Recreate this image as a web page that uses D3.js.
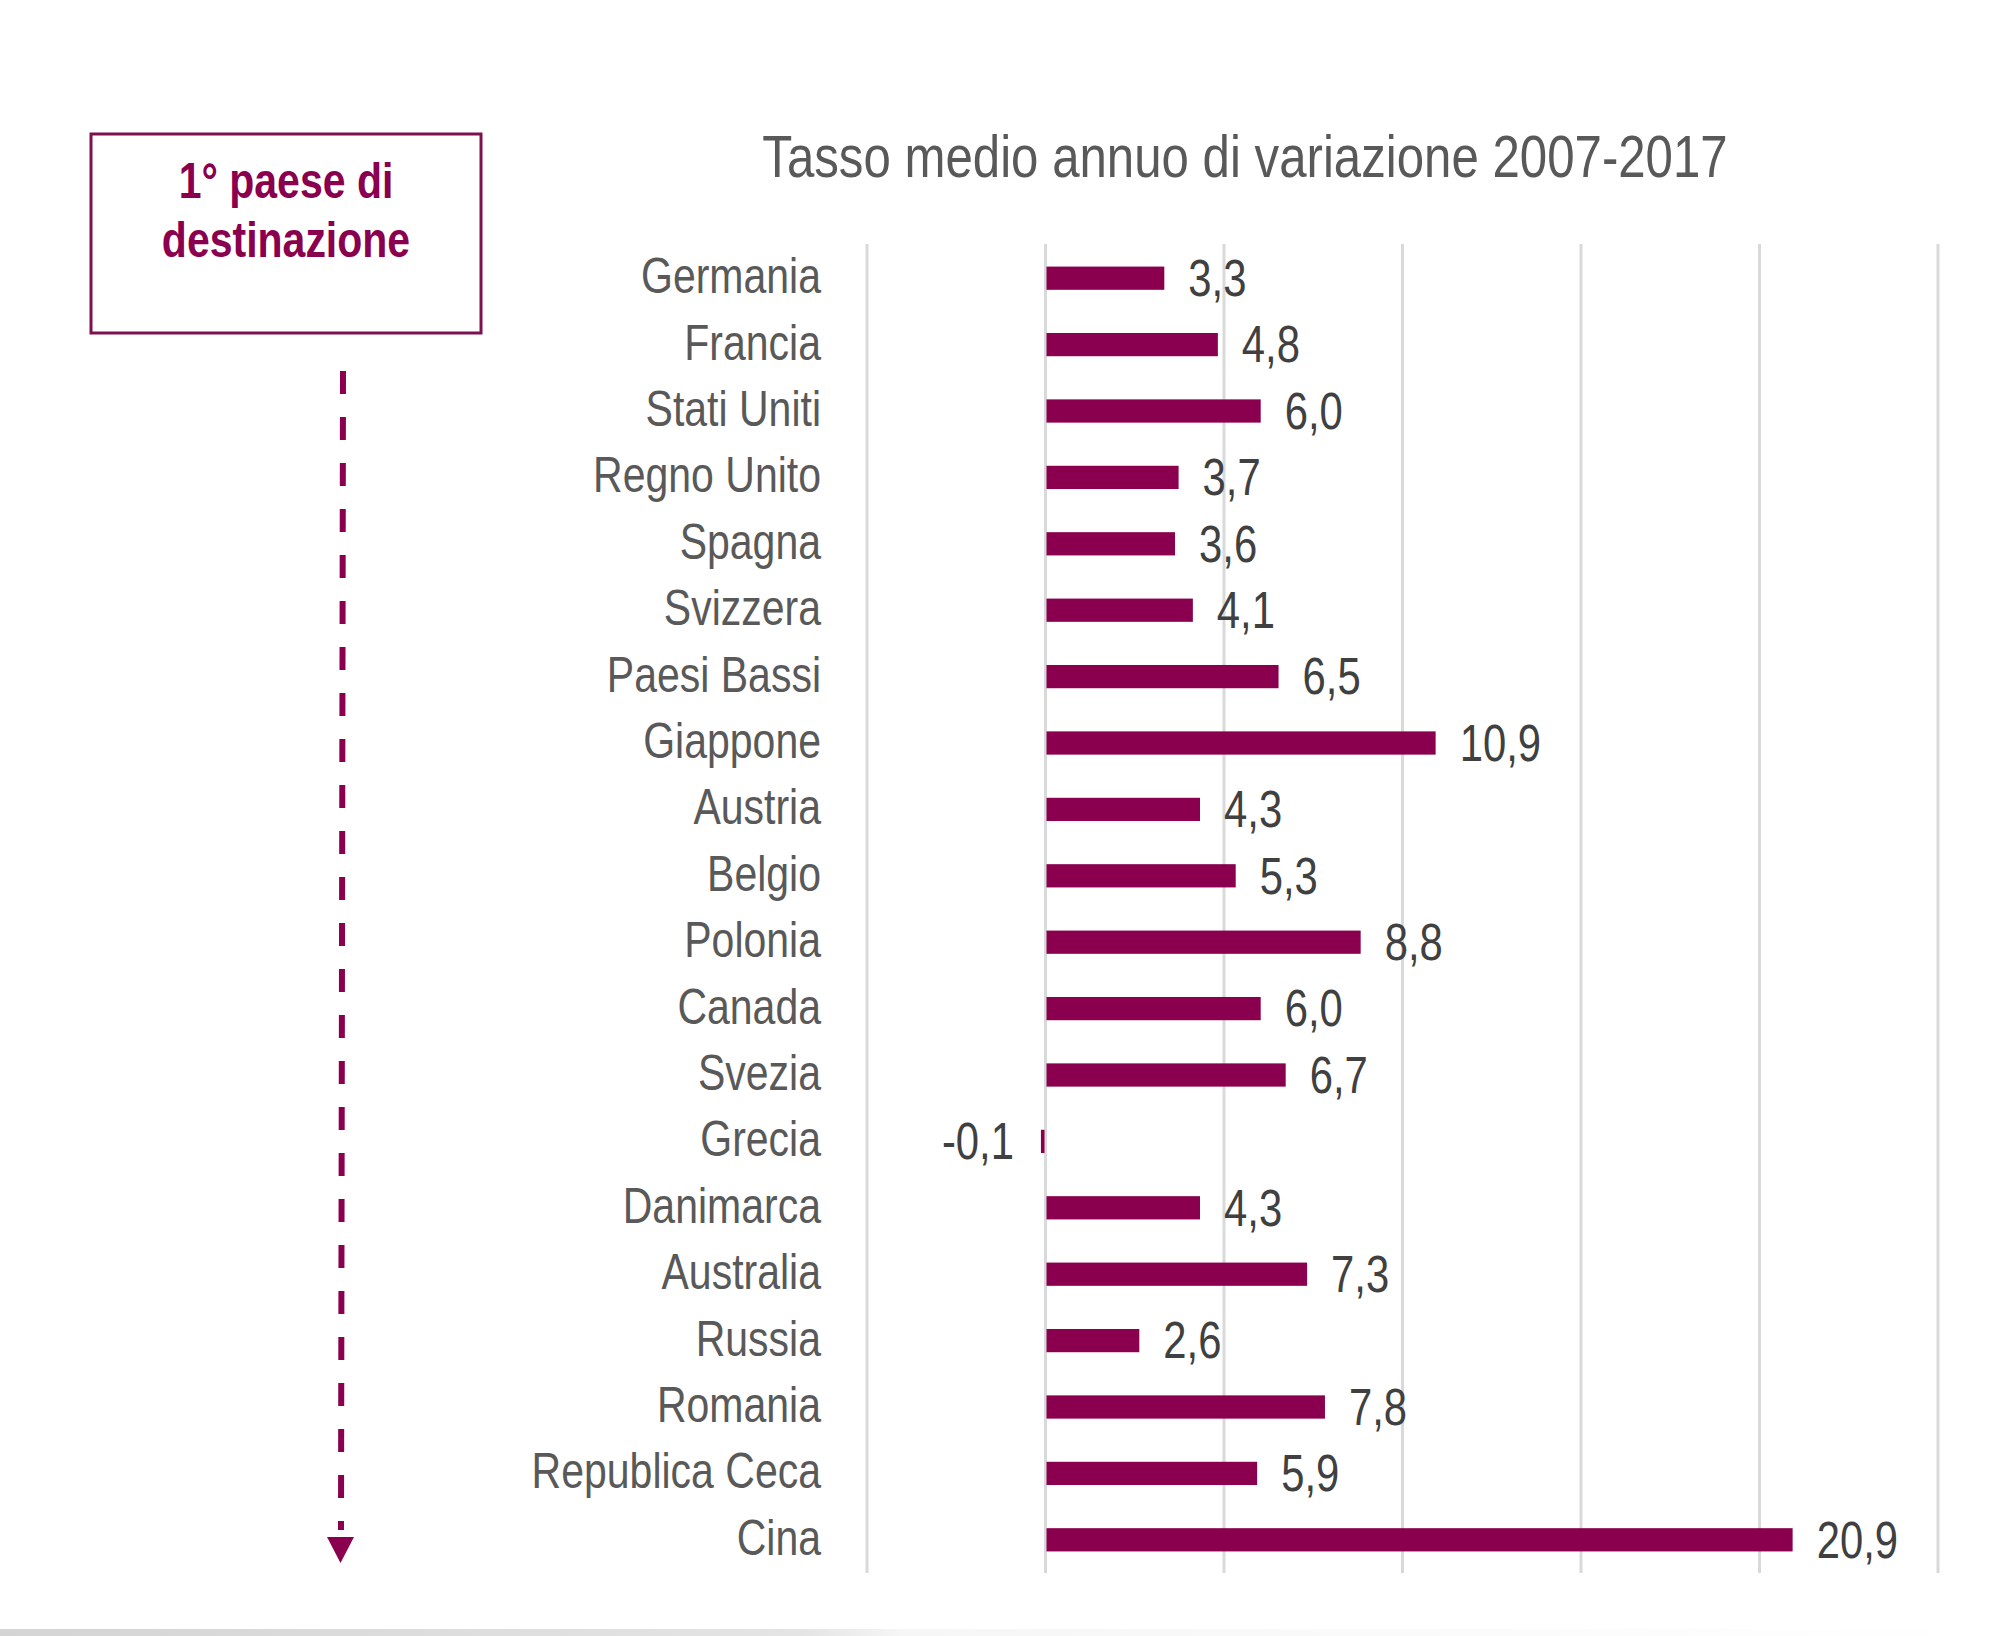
<!DOCTYPE html>
<html><head><meta charset="utf-8">
<script src="https://cdn.jsdelivr.net/npm/d3@7"></script>
<style>
html,body{margin:0;padding:0;background:#fff;}
svg{display:block;}
text{font-family:"Liberation Sans Narrow","Arial Narrow","Liberation Sans",Arial,sans-serif;}
</style></head>
<body>
<svg id="chart" width="2008" height="1636"></svg>
<script>
const categories = ["Germania","Francia","Stati Uniti","Regno Unito","Spagna","Svizzera","Paesi Bassi","Giappone","Austria","Belgio","Polonia","Canada","Svezia","Grecia","Danimarca","Australia","Russia","Romania","Republica Ceca","Cina"];
const values = [3.3,4.8,6.0,3.7,3.6,4.1,6.5,10.9,4.3,5.3,8.8,6.0,6.7,-0.1,4.3,7.3,2.6,7.8,5.9,20.9];
const gridTicks = [-5,0,5,10,15,20,25];
const title = "Tasso medio annuo di variazione 2007-2017";
const boxLines = ["1° paese di","destinazione"];

const svg = d3.select("#chart");
const barColor = "#8a004f";
const NARROW = 0.82;
const tf = (px,py) => `translate(${px},${py}) scale(${NARROW},1)`;

// bottom gray strip
const grad = svg.append("defs").append("linearGradient").attr("id","bg").attr("x1","0").attr("x2","1");
grad.append("stop").attr("offset","0").attr("stop-color","#d4d4d4");
grad.append("stop").attr("offset","0.4").attr("stop-color","#e4e4e4");
grad.append("stop").attr("offset","0.45").attr("stop-color","#f6f6f6");
grad.append("stop").attr("offset","1").attr("stop-color","#ffffff");
svg.append("rect").attr("x",0).attr("y",1629).attr("width",2008).attr("height",7).attr("fill","url(#bg)");

const x = d3.scaleLinear().domain([-5,25]).range([867,1938]);
const y = d3.scaleBand().domain(categories).range([245,1573]).paddingInner(0.65).paddingOuter(0.325);

// gridlines
svg.append("g").selectAll("line").data(gridTicks).join("line")
  .attr("x1",d=>x(d)).attr("x2",d=>x(d)).attr("y1",244).attr("y2",1573)
  .attr("stroke","#d9d9d9").attr("stroke-width",3);

// bars
svg.append("g").selectAll("rect").data(values).join("rect")
  .attr("x",(d)=> d>=0 ? x(0)+1 : x(d)-1)
  .attr("y",(d,i)=>y(categories[i]))
  .attr("width",d=>Math.max(3,Math.abs(x(d)-x(0))))
  .attr("height",y.bandwidth())
  .attr("fill",barColor);

// category labels
svg.append("g").selectAll("text").data(categories).join("text")
  .attr("transform",d=>tf(821, y(d)+y.bandwidth()/2))
  .attr("dy","0.3em").attr("text-anchor","end")
  .attr("font-size",50).attr("fill","#595959").text(d=>d);

// value labels
const fmt = v => d3.format(".1f")(v).replace(".",",").replace("\u2212","-");
svg.append("g").selectAll("text").data(values).join("text")
  .attr("transform",(d,i)=>tf(d>=0 ? x(d)+25 : x(d)-28, y(categories[i])+y.bandwidth()/2))
  .attr("dy","0.35em").attr("text-anchor",d=>d>=0?"start":"end")
  .attr("font-size",51).attr("fill","#404040").text(d=>fmt(d));

// title
svg.append("text").attr("transform",tf(1245,177)).attr("text-anchor","middle")
  .attr("font-size",60).attr("fill","#595959").text(title);

// box
svg.append("rect").attr("x",91).attr("y",134).attr("width",390).attr("height",199)
  .attr("fill","none").attr("stroke","#7f104f").attr("stroke-width",3);
svg.append("g").selectAll("text").data(boxLines).join("text")
  .attr("transform",(d,i)=>tf(286,198+i*59)).attr("text-anchor","middle")
  .attr("font-size",50).attr("font-weight","bold").attr("fill","#8a004f").text(d=>d);

// dashed arrow
svg.append("line").attr("x1",343).attr("y1",371).attr("x2",341).attr("y2",1530)
  .attr("stroke",barColor).attr("stroke-width",6).attr("stroke-dasharray","23 23");
svg.append("path").attr("d","M327,1537 L354,1537 L340.5,1563 Z").attr("fill",barColor);
</script>
</body></html>
